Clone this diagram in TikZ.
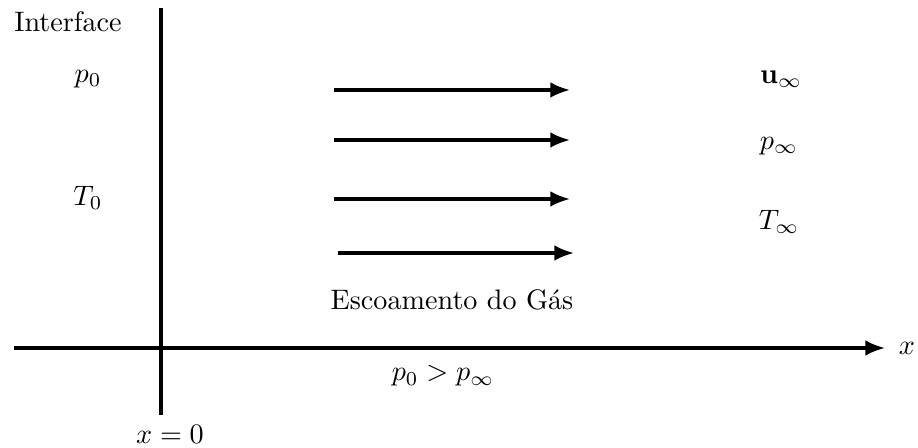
\documentclass[tikz,border=0pt]{standalone}
\usetikzlibrary{arrows.meta}
\begin{document}
\begin{tikzpicture}[x=0.355pt,y=-0.355pt,
  axis/.style={line width=1.1pt},
  flow/.style={line width=1.1pt,-{Latex[length=7pt,width=5.6pt]}},
  lbl/.style={inner sep=0pt}]
\useasboundingbox (0,0) rectangle (918,448);
% axes
\coordinate (vtop) at (161,8);
\coordinate (vbot) at (161,415);
\coordinate (hl) at (14,348);
\coordinate (hr) at (885,348);
\draw[axis] (vtop) -- (vbot);
\draw[flow] (hl) -- (hr);
% flow arrows
\coordinate (a1s) at (334,90);  \coordinate (a1e) at (570,90);
\coordinate (a2s) at (334,140); \coordinate (a2e) at (570,140);
\coordinate (a3s) at (334,199); \coordinate (a3e) at (570,199);
\coordinate (a4s) at (338,253); \coordinate (a4e) at (574,253);
\draw[flow] (a1s) -- (a1e);
\draw[flow] (a2s) -- (a2e);
\draw[flow] (a3s) -- (a3e);
\draw[flow] (a4s) -- (a4e);
% labels
\node[lbl] (interface) at (68,22) {Interface};
\node[lbl] (p0) at (88,79) {$p_0$};
\node[lbl] (T0) at (88,198) {$T_0$};
\node[lbl] (uinf) at (781,79) {$\mathbf{u}_\infty$};
\node[lbl] (pinf) at (779,146) {$p_\infty$};
\node[lbl] (Tinf) at (779,222) {$T_\infty$};
\node[lbl] (gas) at (452,300) {Escoamento do Gás};
\node[lbl] (cmp) at (443,376) {$p_0 > p_\infty$};
\node[lbl] (x0) at (170,434) {$x=0$};
\node[lbl] (xlab) at (907,348) {$x$};
\end{tikzpicture}
\end{document}
